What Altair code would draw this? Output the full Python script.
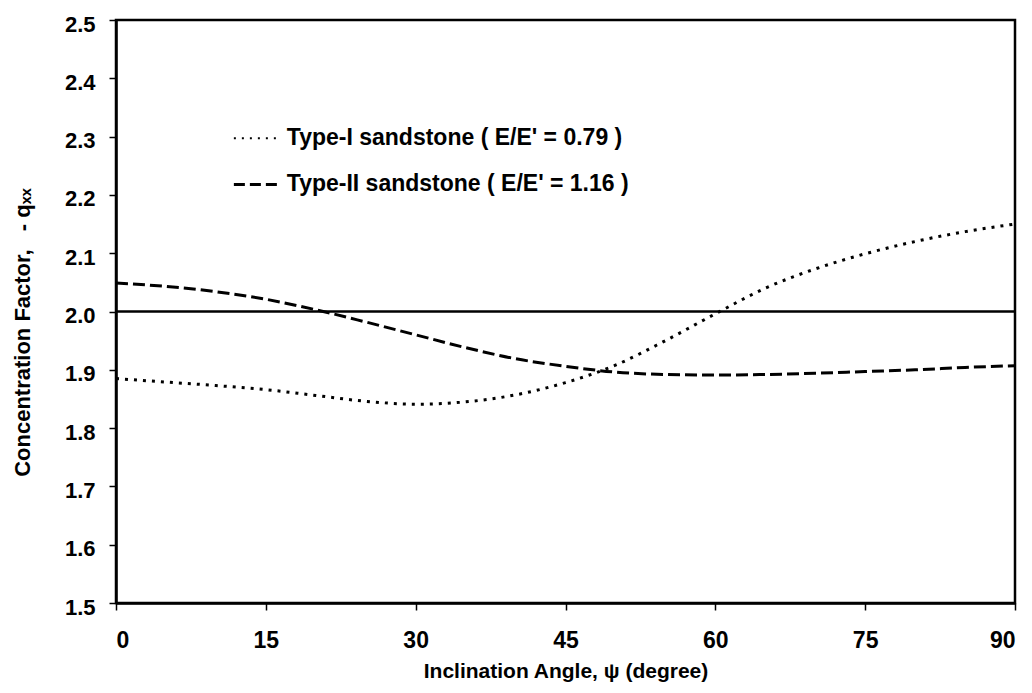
import altair as alt
import pandas as pd

angles = [0, 5, 10, 15, 20, 25, 30, 35, 40, 45, 50, 55, 60, 65, 70, 75, 80, 85, 90]
type1 = [1.885, 1.879, 1.873, 1.866, 1.856, 1.846, 1.841, 1.845, 1.857, 1.878, 1.908, 1.950,
         1.996, 2.040, 2.073, 2.099, 2.120, 2.137, 2.150]
type2 = [2.049, 2.043, 2.034, 2.021, 2.003, 1.982, 1.960, 1.938, 1.919, 1.906, 1.896, 1.892,
         1.891, 1.892, 1.894, 1.897, 1.900, 1.904, 1.907]
ref_x = [0, 90]
ref_y = [2.0, 2.0]

legend_labels = ["Type-I sandstone ( E/E' = 0.79 )", "Type-II sandstone ( E/E' = 1.16 )"]
legend_y = [2.297, 2.218]
legend_x1 = [11.8, 11.8]
legend_x2 = [16.6, 16.6]
legend_tx = [17.1, 17.1]

FONT = "Liberation Sans"

df1 = pd.DataFrame({"angle": angles, "q": type1})
df2 = pd.DataFrame({"angle": angles, "q": type2})
dref = pd.DataFrame({"angle": ref_x, "q": ref_y})
dleg = pd.DataFrame({"x1": legend_x1, "x2": legend_x2, "tx": legend_tx, "y": legend_y, "label": legend_labels})

xscale = alt.Scale(domain=[0, 90], nice=False, zero=False)
yscale = alt.Scale(domain=[1.5, 2.5], nice=False, zero=False)

xaxis = alt.Axis(values=[0, 15, 30, 45, 60, 75, 90], title="Inclination Angle, ψ (degree)",
                 grid=False, tickSize=7, labelPadding=19, titlePadding=8,
                 labelFont=FONT, labelFontSize=23, labelFontWeight="bold",
                 titleFont=FONT, titleFontSize=21, titleFontWeight="bold",
                 domainColor="black", domainWidth=2.5, tickColor="black", tickWidth=1.5,
                 labelColor="black", titleColor="black")
yaxis = alt.Axis(values=[1.5, 1.6, 1.7, 1.8, 1.9, 2.0, 2.1, 2.2, 2.3, 2.4, 2.5], format=".1f",
                 title="Concentration Factor,\u00a0\u00a0\u00a0- q\u2093\u2093",
                 grid=False, tickSize=7, labelPadding=14, labelOffset=4,
                 titleX=-94, titleY=312, titleAngle=-90, titleBaseline="middle", titleAlign="center",
                 labelFont=FONT, labelFontSize=22, labelFontWeight="bold",
                 titleFont=FONT, titleFontSize=22, titleFontWeight="bold",
                 domainColor="black", domainWidth=2.5, tickColor="black", tickWidth=1.5,
                 labelColor="black", titleColor="black")

base_x = alt.X("angle:Q", scale=xscale, axis=xaxis)
base_y = alt.Y("q:Q", scale=yscale, axis=yaxis)

l1 = alt.Chart(df1).mark_line(color="black", strokeWidth=3, strokeDash=[3, 6],
                              interpolate="monotone").encode(x=base_x, y=base_y)
l2 = alt.Chart(df2).mark_line(color="black", strokeWidth=3, strokeDash=[12, 5],
                              interpolate="monotone").encode(x=base_x, y=base_y)
lr = alt.Chart(dref).mark_line(color="black", strokeWidth=2.5).encode(x=base_x, y=base_y)

leg1 = alt.Chart(dleg.iloc[[0]]).mark_rule(color="black", strokeWidth=2, strokeDash=[2, 6]).encode(
    x=alt.X("x1:Q", scale=xscale), x2="x2:Q", y=alt.Y("y:Q", scale=yscale))
leg2 = alt.Chart(dleg.iloc[[1]]).mark_rule(color="black", strokeWidth=3, strokeDash=[11, 5]).encode(
    x=alt.X("x1:Q", scale=xscale), x2="x2:Q", y=alt.Y("y:Q", scale=yscale))
legt = alt.Chart(dleg).mark_text(align="left", baseline="middle", font=FONT, fontSize=23,
                                 fontWeight="bold", color="black").encode(
    x=alt.X("tx:Q", scale=xscale), y=alt.Y("y:Q", scale=yscale), text="label:N")

chart = alt.layer(lr, l1, l2, leg1, leg2, legt).properties(
    width=899, height=583,
    autosize=alt.AutoSizeParams(type="none"),
    padding={"left": 116, "top": 20, "right": 17, "bottom": 90},
    background="white",
).configure_view(stroke="black", strokeWidth=2.5)

chart.save("out.html", embed_options={"renderer": "svg", "actions": False})
